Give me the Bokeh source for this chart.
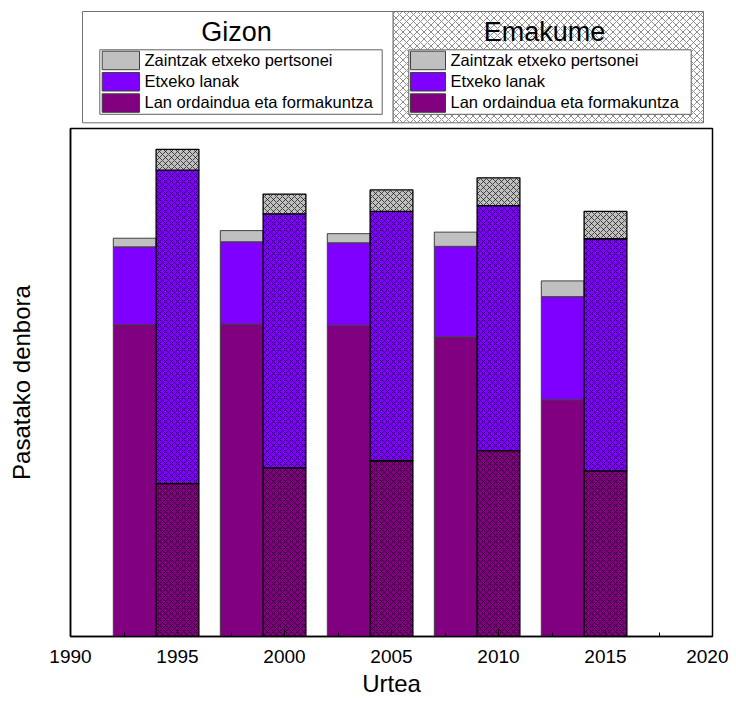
from bokeh.plotting import figure
from bokeh.models import Range1d, SingleIntervalTicker, ColumnDataSource
from bokeh.layouts import column
from bokeh.core.properties import value
from bokeh.embed import file_html
from bokeh.resources import INLINE

# ---- data (arbitrary time units, frame = 0..100) ----
gizon_years = [1993, 1998, 2003, 2008, 2013]
emakume_years = [1995, 2000, 2005, 2010, 2015]
gizon_lan = [61.4, 61.5, 61.2, 59.0, 46.6]
gizon_etxeko = [15.3, 16.2, 16.3, 17.8, 20.3]
gizon_zaintza = [1.7, 2.2, 1.8, 2.8, 3.1]
emakume_lan = [30.1, 33.2, 34.6, 36.6, 32.6]
emakume_etxeko = [61.7, 50.0, 49.1, 48.2, 45.7]
emakume_zaintza = [4.1, 3.9, 4.2, 5.5, 5.4]
series_labels = ["Zaintzak etxeko pertsonei", "Etxeko lanak", "Lan ordaindua eta formakuntza"]
series_colors = ["#C0C0C0", "#8000FF", "#800080"]
group_titles = ["Gizon", "Emakume"]
x_ticks_start, x_ticks_end = 1990, 2020

FONT = "Liberation Sans"
W = 728
BL, BR = 70, 16

# ---------------- legend strip (coordinates = page pixels) ----------------
LH = 124
leg = figure(width=W, height=LH, x_range=Range1d(BL, W - BR), y_range=Range1d(LH, 0),
             toolbar_location=None, output_backend="svg",
             min_border_left=BL, min_border_right=BR, min_border_top=0, min_border_bottom=0,
             x_axis_location=None, y_axis_location=None)
leg.grid.visible = False
leg.outline_line_color = None
leg.background_fill_color = "white"

leg.quad(left=[82], right=[392.7], top=[11], bottom=[122.3], fill_color="white",
         line_color="#707070", line_width=1)
leg.quad(left=[392.7], right=[703], top=[11], bottom=[122.3], fill_color="white",
         hatch_pattern="x", hatch_color="#707070", hatch_scale=7, hatch_weight=0.8,
         line_color="#707070", line_width=1)

leg.text(x=[236, 544], y=[31, 31.5], text=group_titles, text_font=value(FONT),
         text_font_size="27px", text_align="center", text_baseline="alphabetic",
         text_color="black")

for bx0, bx1, sx0, sx1, tx in [(99.3, 381.7, 101.7, 139, 144), (408.3, 690.7, 410, 445, 450)]:
    leg.quad(left=[bx0], right=[bx1], top=[49.3], bottom=[113.8], fill_color="white",
             line_color="#606060", line_width=1)
    tops = [50.7, 72.0, 93.3]
    leg.quad(left=[sx0] * 3, right=[sx1] * 3, top=tops, bottom=[t + 18.5 for t in tops],
             fill_color=series_colors, line_color="#404040", line_width=1)
    leg.text(x=[tx] * 3, y=[59.2, 80.5, 101.8], text=series_labels, text_font=value(FONT),
             text_font_size="16.5px", text_align="left", text_baseline="alphabetic",
             text_color="black")

# ---------------- main chart ----------------
p = figure(width=W, height=701 - LH, x_range=Range1d(x_ticks_start, x_ticks_end),
           y_range=Range1d(0, 100), toolbar_location=None, output_backend="svg",
           min_border_left=BL, min_border_right=BR, min_border_top=4, min_border_bottom=65)
p.grid.visible = False
p.outline_line_color = "black"
p.outline_line_width = 1.5
p.background_fill_color = "white"

stack_keys = ["lan", "etxeko", "zaintza"]
stack_colors = series_colors[::-1]

src_g = ColumnDataSource(dict(x=gizon_years, lan=gizon_lan, etxeko=gizon_etxeko, zaintza=gizon_zaintza))
src_e = ColumnDataSource(dict(x=emakume_years, lan=emakume_lan, etxeko=emakume_etxeko, zaintza=emakume_zaintza))

p.vbar_stack(stack_keys, x="x", width=2, source=src_g, fill_color=stack_colors,
             line_color="#404040", line_width=1)
p.vbar_stack(stack_keys, x="x", width=2, source=src_e, fill_color=stack_colors,
             line_color="black", line_width=1.3,
             hatch_pattern="x", hatch_color="black", hatch_scale=6, hatch_weight=0.8,
             hatch_alpha=0.8)

xa = p.xaxis[0]
xa.ticker = SingleIntervalTicker(interval=5, num_minor_ticks=2)
xa.major_tick_in = 7
xa.major_tick_out = 0
xa.minor_tick_in = 4
xa.minor_tick_out = 0
xa.major_tick_line_color = "black"
xa.minor_tick_line_color = "black"
xa.axis_line_color = "black"
xa.axis_line_width = 1.5
xa.major_label_text_font = FONT
xa.major_label_text_font_size = "19px"
xa.major_label_text_color = "black"
xa.major_label_standoff = 13
xa.axis_label = "Urtea"
xa.axis_label_text_font = FONT
xa.axis_label_text_font_size = "24px"
xa.axis_label_text_font_style = "normal"
xa.axis_label_text_color = "black"
xa.axis_label_standoff = 4

ya = p.yaxis[0]
ya.ticker = []
ya.major_tick_in = 0
ya.major_tick_out = 0
ya.minor_tick_in = 0
ya.minor_tick_out = 0
ya.major_label_text_font_size = "0px"
ya.major_label_standoff = 0
ya.axis_line_color = "black"
ya.axis_line_width = 1.5
ya.axis_label = "Pasatako denbora"
ya.axis_label_text_font = FONT
ya.axis_label_text_font_size = "24px"
ya.axis_label_text_font_style = "normal"
ya.axis_label_text_color = "black"
ya.axis_label_standoff = 36

layout = column(leg, p, spacing=0)
open("out.html", "w").write(file_html(layout, INLINE))
